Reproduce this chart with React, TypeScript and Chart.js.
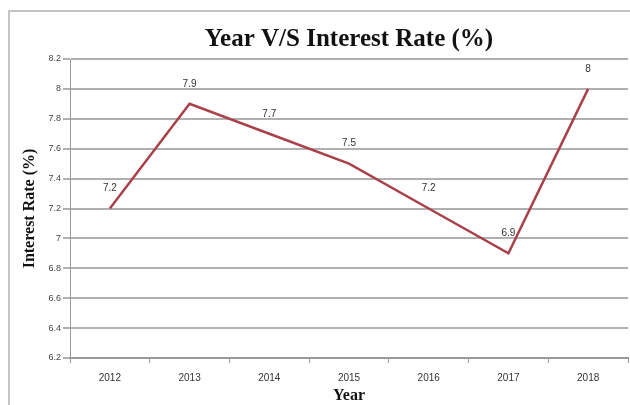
import React, { useEffect, useRef } from "react";
import { Chart, registerables } from "chart.js";

Chart.register(...registerables);

const years = ["2012", "2013", "2014", "2015", "2016", "2017", "2018"];
const rates = [7.2, 7.9, 7.7, 7.5, 7.2, 6.9, 8];
const titleText = "Year V/S Interest Rate (%)";
const xTitle = "Year";
const yTitle = "Interest Rate (%)";

const framePlugin = {
  id: "frame",
  beforeDraw(chart: any) {
    const ctx = chart.ctx;
    ctx.save();
    ctx.fillStyle = "#ffffff";
    ctx.fillRect(0, 0, chart.width, chart.height);
    ctx.strokeStyle = "#c4c4c4";
    ctx.lineWidth = 2;
    ctx.beginPath();
    ctx.moveTo(9, chart.height);
    ctx.lineTo(9, 11);
    ctx.lineTo(chart.width, 11);
    ctx.stroke();
    ctx.restore();
  },
};

const labelPlugin = {
  id: "pointLabels",
  afterDatasetsDraw(chart: any) {
    const ctx = chart.ctx;
    const meta = chart.getDatasetMeta(0);
    const data = chart.data.datasets[0].data;
    ctx.save();
    ctx.font = "10px 'Liberation Sans', Arial, sans-serif";
    ctx.fillStyle = "#333333";
    ctx.textAlign = "center";
    ctx.textBaseline = "middle";
    meta.data.forEach((pt: any, i: number) => {
      ctx.fillText(String(data[i]), pt.x, pt.y - 20);
    });
    ctx.restore();
  },
};

export default function App() {
  const ref = useRef<HTMLCanvasElement | null>(null);
  useEffect(() => {
    document.body.style.margin = "0";
    const chart = new Chart(ref.current as HTMLCanvasElement, {
      type: "line",
      data: {
        labels: years,
        datasets: [
          {
            data: rates,
            borderColor: "#a8414a",
            borderWidth: 2.5,
            pointRadius: 0,
            tension: 0,
            fill: false,
          },
        ],
      },
      plugins: [framePlugin, labelPlugin],
      options: {
        animation: false,
        responsive: false,
        maintainAspectRatio: false,
        layout: { padding: { left: 10, right: 2, top: 0, bottom: 0 } },
        plugins: {
          legend: { display: false },
          tooltip: { enabled: false },
          title: {
            display: true,
            fullSize: false,
            text: titleText,
            color: "#111111",
            font: { family: "'Liberation Serif', 'Times New Roman', serif", size: 25, weight: "bold" },
            padding: { top: 25, bottom: 4 },
          },
        },
        scales: {
          x: {
            type: "category",
            offset: true,
            afterFit(scale: any) {
              scale.height = 47;
            },
            grid: {
              display: true,
              drawOnChartArea: false,
              drawTicks: true,
              tickLength: 5,
              offset: true,
              color: "#9a9a9a",
              lineWidth: 1,
            },
            border: { display: true, color: "#9a9a9a", width: 2 },
            ticks: {
              color: "#333333",
              font: { family: "'Liberation Sans', Arial, sans-serif", size: 10 },
              padding: 9,
              maxRotation: 0,
            },
            title: {
              display: true,
              text: xTitle,
              color: "#111111",
              font: { family: "'Liberation Serif', 'Times New Roman', serif", size: 16, weight: "bold" },
              padding: { top: 0, bottom: 0 },
            },
          },
          y: {
            min: 6.2,
            max: 8.2,
            afterFit(scale: any) {
              scale.width = 60;
            },
            grid: {
              color: "#b0b0b0",
              lineWidth: 2,
              drawTicks: true,
              tickLength: 7,
            },
            border: { display: true, color: "#9a9a9a", width: 1 },
            ticks: {
              stepSize: 0.2,
              color: "#444444",
              font: { family: "'Liberation Sans', Arial, sans-serif", size: 9 },
              padding: 2,
              callback: (v: any) => String(Math.round(Number(v) * 10) / 10),
            },
            title: {
              display: true,
              text: yTitle,
              color: "#111111",
              font: { family: "'Liberation Serif', 'Times New Roman', serif", size: 16, weight: "bold" },
              padding: { top: 10, bottom: 4 },
            },
          },
        },
      } as any,
    });
    return () => chart.destroy();
  }, []);
  return (
    <div style={{ width: 630, height: 405 }}>
      <canvas ref={ref} width={630} height={405} style={{ display: "block" }} />
    </div>
  );
}
